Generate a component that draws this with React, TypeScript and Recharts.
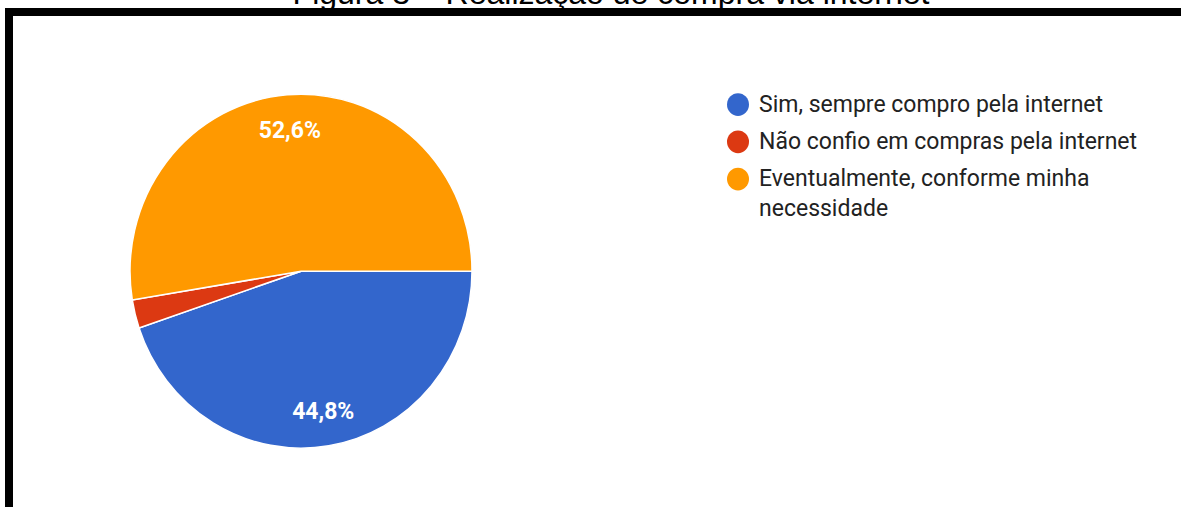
import { PieChart, Pie, Cell, Legend } from "recharts";

const labels = [
  "Sim, sempre compro pela internet",
  "Não confio em compras pela internet",
  "Eventualmente, conforme minha necessidade",
];
const values = [44.8, 2.6, 52.6];
const colors = ["#3366cc", "#dc3912", "#ff9900"];

const data = labels.map((name, i) => ({ name, value: values[i] }));

const RAD = Math.PI / 180;
// the source picture is stretched a little vertically
const SY = 1.035;

function renderLabel(p: any) {
  if (p.percent < 0.05) return null;
  const r = p.outerRadius * 0.8;
  const x = p.cx + r * Math.cos(-p.midAngle * RAD);
  const y = p.cy + r * Math.sin(-p.midAngle * RAD);
  return (
    <text x={x} y={y} fill="#fff" textAnchor="middle" dominantBaseline="central"
      style={{ fontFamily: "Roboto, Arial, sans-serif", fontSize: 23, fontWeight: 700 }}>
      {p.value.toFixed(1).replace(".", ",")}%
    </text>
  );
}

function LegendBox(props: any) {
  // keep the data order (legend sorts by name otherwise)
  const items = [...(props.payload || [])].sort(
    (a: any, b: any) => labels.indexOf(a.value) - labels.indexOf(b.value)
  );
  return (
    <div style={{ fontFamily: "Roboto, Arial, sans-serif", fontSize: 23, color: "#222" }}>
      {items.map((it: any) => (
        <div key={it.value} style={{ display: "flex", alignItems: "flex-start", marginBottom: 7 }}>
          <span style={{ width: 22, height: 22, borderRadius: "50%", background: it.color, marginTop: 4, marginRight: 10, flex: "none" }} />
          <span style={{ lineHeight: "29px", width: 400 }}>{it.value}</span>
        </div>
      ))}
    </div>
  );
}

export default function App() {
  return (
    <div style={{ position: "absolute", left: 0, top: 0, width: 1181, height: 507, overflow: "hidden", background: "#fff" }}>
      <div style={{ position: "absolute", left: 0, width: 1222, top: -23, textAlign: "center", fontFamily: "Arial, 'Liberation Sans', sans-serif", fontSize: 32, color: "#000", lineHeight: "32px", whiteSpace: "nowrap" }}>
        Figura 3 – Realização de compra via internet
      </div>
      <div style={{ position: "absolute", left: 5, top: 8, width: 1200, height: 520, borderTop: "8px solid #000", borderLeft: "8px solid #000" }} />
      <div style={{ position: "absolute", left: 0, top: 0, transform: `scaleY(${SY})`, transformOrigin: "0 0" }}>
        <PieChart width={1181} height={490} margin={{ top: 0, right: 0, bottom: 0, left: 0 }}>
          <Pie data={data} dataKey="value" nameKey="name" cx={301} cy={262} outerRadius={171}
            startAngle={0} endAngle={-360} stroke="#fff" strokeWidth={1.5}
            label={renderLabel} labelLine={false} isAnimationActive={false}>
            {data.map((d, i) => <Cell key={d.name} fill={colors[i]} />)}
          </Pie>
          <Legend layout="vertical" align="right" verticalAlign="top" content={LegendBox}
            wrapperStyle={{ left: 727, top: 86, width: 440 }} />
        </PieChart>
      </div>
    </div>
  );
}
